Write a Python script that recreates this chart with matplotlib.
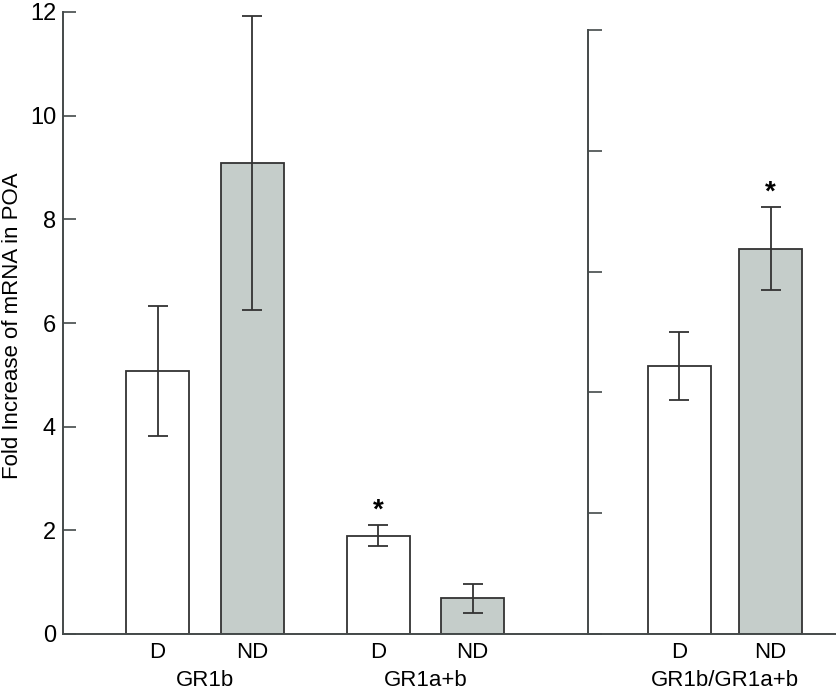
import matplotlib.pyplot as plt

plt.rcParams['font.family'] = ['Liberation Sans', 'DejaVu Sans']

# left panel: fold increase (0-12 scale)
left_groups = ["GR1b", "GR1a+b"]
left_conds = ["D", "ND", "D", "ND"]
left_vals = [5.07, 9.09, 1.90, 0.69]
left_errs = [1.25, 2.84, 0.20, 0.28]
left_star = [False, False, True, False]

# right panel: ratio (unlabelled 0-5 scale)
right_group = "GR1b/GR1a+b"
right_conds = ["D", "ND"]
right_vals = [2.22, 3.19]
right_errs = [0.28, 0.345]
right_star = [False, True]

fills = ["white", "#c5cdca"]
edge = "#333333"
spine_col = "#444a4a"

W, H = 836, 693
fig = plt.figure(figsize=(W / 100, H / 100), dpi=100)

y0 = 634
ax = fig.add_axes([63 / W, (H - y0) / H, (588 - 63) / W, (y0 - 12) / H])
ax2 = fig.add_axes([588 / W, (H - y0) / H, (W - 588) / W, (y0 - 30) / H])


def draw(a, xs, vals, errs, stars, conds):
    cols = [fills[i % 2] for i in range(len(vals))]
    a.bar(xs, vals, width=1.0, color=cols, edgecolor=edge, linewidth=1.3, zorder=2)
    a.errorbar(xs, vals, yerr=errs, fmt='none', ecolor=edge, elinewidth=1.3,
               capsize=7, capthick=1.3, zorder=3)
    for x, v, e, s in zip(xs, vals, errs, stars):
        if s:
            a.annotate("*", (x, v + e), xytext=(0, 1), textcoords='offset points',
                       ha='center', va='bottom', fontsize=20, fontweight='bold')
    a.set_xticks(xs)
    a.set_xticklabels(conds, fontsize=16)
    a.tick_params(axis='x', length=0, pad=6)


left_x = [1.5, 3.0, 5.0, 6.5]
draw(ax, left_x, left_vals, left_errs, left_star, left_conds)
ax.set_xlim(0, 8.33)
ax.set_ylim(0, 12)
ax.set_yticks(range(0, 13, 2))
ax.tick_params(axis='y', direction='in', length=9, width=1.2, labelsize=17,
               pad=5, color=spine_col)
ax.set_ylabel("Fold Increase of mRNA in POA", fontsize=16, va='center')
ax.yaxis.set_label_coords(-0.097, 0.495)
for i, g in enumerate(left_groups):
    gx = (left_x[2 * i] + left_x[2 * i + 1]) / 2
    ax.text(gx, -0.074, g, transform=ax.get_xaxis_transform(),
            ha='center', va='center', fontsize=16)

right_x = [1.45, 2.9]
draw(ax2, right_x, right_vals, right_errs, right_star, right_conds)
ax2.set_xlim(0, 3.94)
ax2.set_ylim(0, 5)
ax2.set_yticks(range(0, 6))
ax2.set_yticklabels([])
ax2.tick_params(axis='y', direction='in', length=10, width=1.2, color=spine_col)
ax2.text(sum(right_x) / 2, -0.074 * 622 / 604, right_group,
         transform=ax2.get_xaxis_transform(), ha='center', va='center', fontsize=16)

for a in (ax, ax2):
    a.patch.set_alpha(0)
    for s in ("top", "right"):
        a.spines[s].set_visible(False)
    for s in ("left", "bottom"):
        a.spines[s].set_color(spine_col)
        a.spines[s].set_linewidth(1.4)

fig.savefig("out.png", dpi=100)
